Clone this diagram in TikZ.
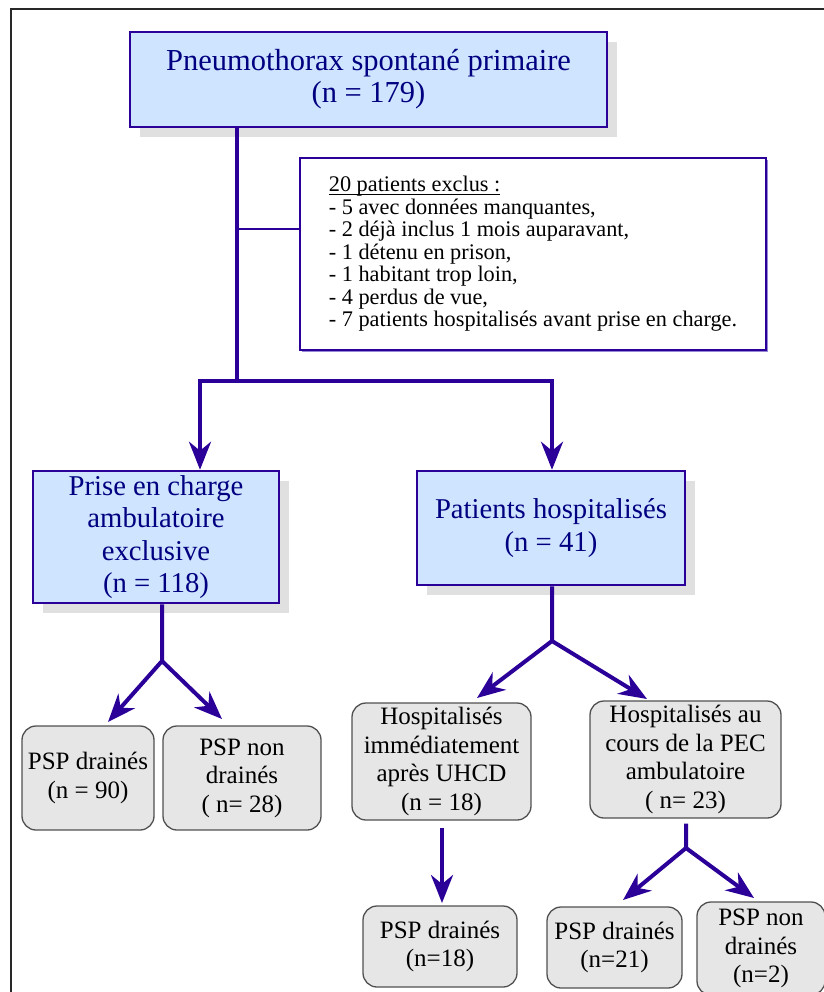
\documentclass[tikz,border=0pt]{standalone}
\usepackage{fontspec}
\setmainfont{Liberation Serif}
\usepackage{tikz}
\usetikzlibrary{positioning, calc, arrows.meta, shadows}
\definecolor{ind}{RGB}{42,0,152}
\definecolor{paleblue}{RGB}{207,228,255}
\definecolor{navy}{RGB}{0,0,128}
\definecolor{shgray}{RGB}{224,224,224}
\definecolor{gfill}{RGB}{230,230,230}
\definecolor{gborder}{RGB}{80,80,80}
\definecolor{exshadow}{RGB}{150,136,214}
\definecolor{framegray}{RGB}{40,40,40}
\newcommand{\exclhead}[1]{\setbox0\hbox{#1}\rlap{\rule[-3pt]{\wd0}{0.9pt}}\box0}

\begin{document}
\begin{tikzpicture}[x=1pt, y=-1pt,
	bbox/.style={draw=ind, line width=2.5pt, fill=paleblue, text=navy, align=center, inner sep=0pt,
		font=\fontsize{28.7}{32.5}\selectfont,
		drop shadow={shadow xshift=10pt, shadow yshift=-10pt, fill=shgray, opacity=1}},
	gbox/.style={draw=gborder, line width=1.3pt, fill=gfill, rounded corners=14pt, align=center,
		inner sep=0pt, font=\fontsize{25}{28.5}\selectfont},
	link/.style={draw=ind, line width=4pt},
	flow/.style={link, -{Stealth[length=28pt, width=22pt, inset=9pt]}}]
\useasboundingbox (0,0) rectangle (823,992);
\draw[line width=2pt, framegray] (11,1000) |- (830,9);

\node[bbox, font=\fontsize{30.5}{32}\selectfont, minimum width=477pt, minimum height=95pt] (top) at (368.5,79.5)
	{Pneumothorax spontané primaire\\(n = 179)};
\node[draw=ind, line width=1.2pt, fill=white, align=left, inner sep=0pt, minimum width=466pt, minimum height=192pt,
	font=\fontsize{22.3}{22.5}\selectfont,
	drop shadow={shadow xshift=2pt, shadow yshift=-2pt, fill=exshadow, opacity=1}] (excl) at (533,254)
	{\exclhead{20 patients exclus :}\\- 5 avec données manquantes,\\- 2 déjà inclus 1 mois auparavant,\\
	- 1 détenu en prison,\\- 1 habitant trop loin,\\- 4 perdus de vue,\\- 7 patients hospitalisés avant prise en charge.};
\node[bbox, minimum width=246pt, minimum height=132pt] (prise) at (156,537)
	{Prise en charge\\ambulatoire\\exclusive\\(n = 118)};
\node[bbox, minimum width=268pt, minimum height=114pt] (hosp) at (551,528)
	{Patients hospitalisés\\(n = 41)};

\node[gbox, minimum width=132pt, minimum height=104pt] (g90) at (88,778) {PSP drainés\\(n = 90)};
\node[gbox, minimum width=158pt, minimum height=104pt] (g28) at (242,778) {PSP non\\drainés\\( n= 28)};
\node[gbox, minimum width=179pt, minimum height=117pt] (guhcd) at (441.5,761.5)
	{Hospitalisés\\immédiatement\\après UHCD\\(n = 18)};
\node[gbox, minimum width=191pt, minimum height=117pt] (gpec) at (685.5,759.5)
	{Hospitalisés au\\cours de la PEC\\ambulatoire\\( n= 23)};
\node[gbox, minimum width=154pt, minimum height=81pt] (g18) at (440,946.5) {PSP drainés\\(n=18)};
\node[gbox, minimum width=135pt, minimum height=81pt] (g21) at (614.5,947.5) {PSP drainés\\(n=21)};
\node[gbox, minimum width=128pt, minimum height=93pt] (g2) at (761,948.5) {PSP non\\drainés\\(n=2)};

\foreach \n/\x/\y in {split/237/381, lbar/200/381, rbar/552/381, exclin/300/229,
	fork1/162/661, fork2/552/641, fork3/686/848,
	g90in/108/722, g28in/222/719, guhcdin/477/698, gpecin/647/699,
	g18in/442/903, g21in/623/900, g2in/754/898}
	\coordinate (\n) at (\x,\y);

\draw[flow] (top.south -| split) -- (split) -| (lbar |- prise.north);
\draw[flow] (split) -| (rbar |- hosp.north);
\draw[draw=ind, line width=1.2pt] (split |- exclin) -- (exclin);

\draw[flow] (fork1 |- prise.south) -- (fork1) -- (g90in);
\draw[flow] (fork1) -- (g28in);
\draw[flow] (fork2 |- hosp.south) -- (fork2) -- (guhcdin);
\draw[flow] (fork2) -- (gpecin);
\draw[flow, shorten <=7pt] (guhcd.south -| g18in) -- (g18in);
\draw[flow, shorten <=5pt] (gpec.south -| fork3) -- (fork3) -- (g21in);
\draw[flow] (fork3) -- (g2in);
\end{tikzpicture}
\end{document}
